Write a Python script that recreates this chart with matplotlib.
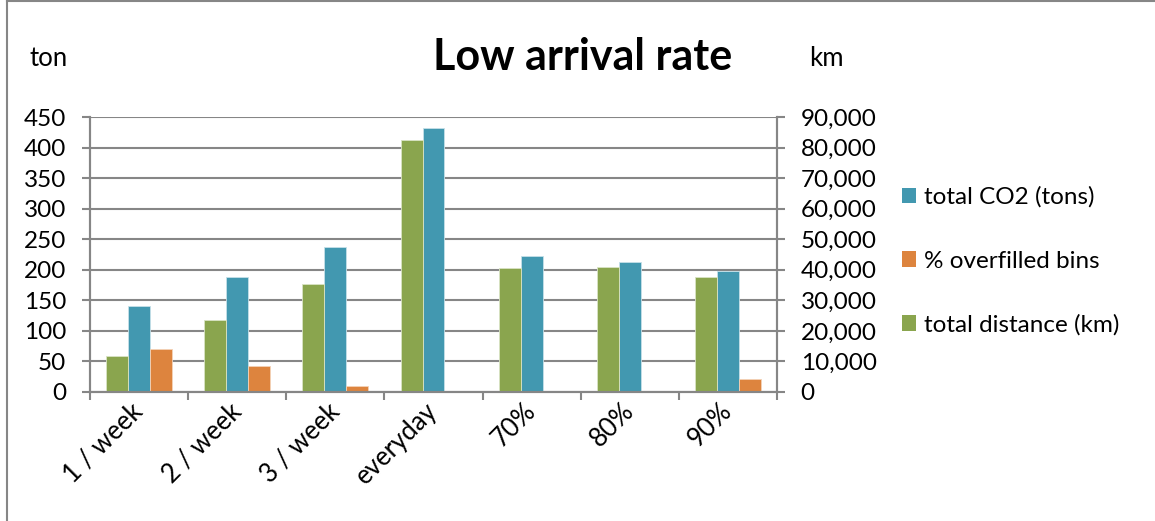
import matplotlib
matplotlib.use("Agg")
import matplotlib.pyplot as plt
from matplotlib.lines import Line2D
from matplotlib.patches import Patch
import numpy as np

plt.rcParams['font.family'] = ['Lato', 'DejaVu Sans']

# schedules / fill thresholds
categories = ["1 / week", "2 / week", "3 / week", "everyday", "70%", "80%", "90%"]
total_distance_km = [11700, 23500, 35500, 82500, 40600, 40900, 37600]
total_co2_tons = [140, 189, 237, 432, 222.5, 213, 197.5]
overfilled_pct = [71, 42, 10.5, 0, 1.2, 2.0, 20.5]

green = "#8AA54E"
blue = "#4298B0"
orange = "#DD843E"
grey = "#868686"
fs = 17.5

W, H = 1155, 521
fig = plt.figure(figsize=(W / 100, H / 100), dpi=100)
ax = fig.add_axes([90 / W, 1 - 392 / H, (777 - 90) / W, (392 - 117) / H])
ax2 = ax.twinx()

x = np.arange(len(categories))
bw = 0.224
ax2.bar(x - bw, total_distance_km, bw, color=green, edgecolor="#d9e3c4", linewidth=0.6)
ax.bar(x, total_co2_tons, bw, color=blue, edgecolor="#c6e0e8", linewidth=0.6)
ax.bar(x + bw, overfilled_pct, bw, color=orange, edgecolor="#f3d2b8", linewidth=0.6)

ax.set_ylim(0, 450)
ax2.set_ylim(0, 90000)
ax.set_xlim(-0.5, len(categories) - 0.5)
ax.set_yticks(np.arange(0, 451, 50))
ax2.set_yticks(np.arange(0, 90001, 10000))
ax2.set_yticklabels([f"{v:,}" for v in range(0, 90001, 10000)])

ax.set_axisbelow(True)
ax.yaxis.grid(True, color=grey, linewidth=1.5)

# boundaries get tick marks, centres get labels
ax.set_xticks(np.arange(-0.5, len(categories), 1.0))
ax.set_xticklabels([])
ax.set_xticks(x, minor=True)
ax.set_xticklabels(categories, minor=True, rotation=45, ha="right", va="center",
                   rotation_mode="anchor", fontsize=18.5)
ax.tick_params(axis="x", which="major", length=6, width=1.5, color=grey,
               direction="out")
ax.tick_params(axis="x", which="minor", length=0, pad=11)
ax.tick_params(axis="y", length=6, width=1.5, color=grey, labelsize=fs, pad=11)
ax2.tick_params(axis="y", length=6, width=1.5, color=grey, labelsize=fs, pad=11)

for a in (ax, ax2):
    a.spines["top"].set_visible(False)
    for s in ("left", "right", "bottom"):
        a.spines[s].set_color(grey)
        a.spines[s].set_linewidth(1.5)

fig.text(583 / W, 1 - 57 / H, "Low arrival rate", fontsize=31, fontweight="bold",
         ha="center", va="center")
fig.text(49 / W, 1 - 58 / H, "ton", fontsize=18.5, ha="center", va="center")
fig.text(826 / W, 1 - 58 / H, "km", fontsize=18.5, ha="center", va="center")

handles = [Patch(facecolor=blue), Patch(facecolor=orange), Patch(facecolor=green)]
labels = ["total CO2 (tons)", "% overfilled bins", "total distance (km)"]
fig.legend(handles, labels, loc="center left", bbox_to_anchor=(880 / W, 1 - 261 / H),
           frameon=False, fontsize=fs, handlelength=0.6, handleheight=0.6,
           handletextpad=0.3, labelspacing=1.75)

# outer chart frame
fig.add_artist(Line2D([7 / W, 7 / W], [0, 1 - 1 / H], color=grey, linewidth=1.5,
                      transform=fig.transFigure))
fig.add_artist(Line2D([7 / W, 1], [1 - 1 / H, 1 - 1 / H], color=grey, linewidth=1.5,
                      transform=fig.transFigure))

fig.savefig("out.png", dpi=100)
